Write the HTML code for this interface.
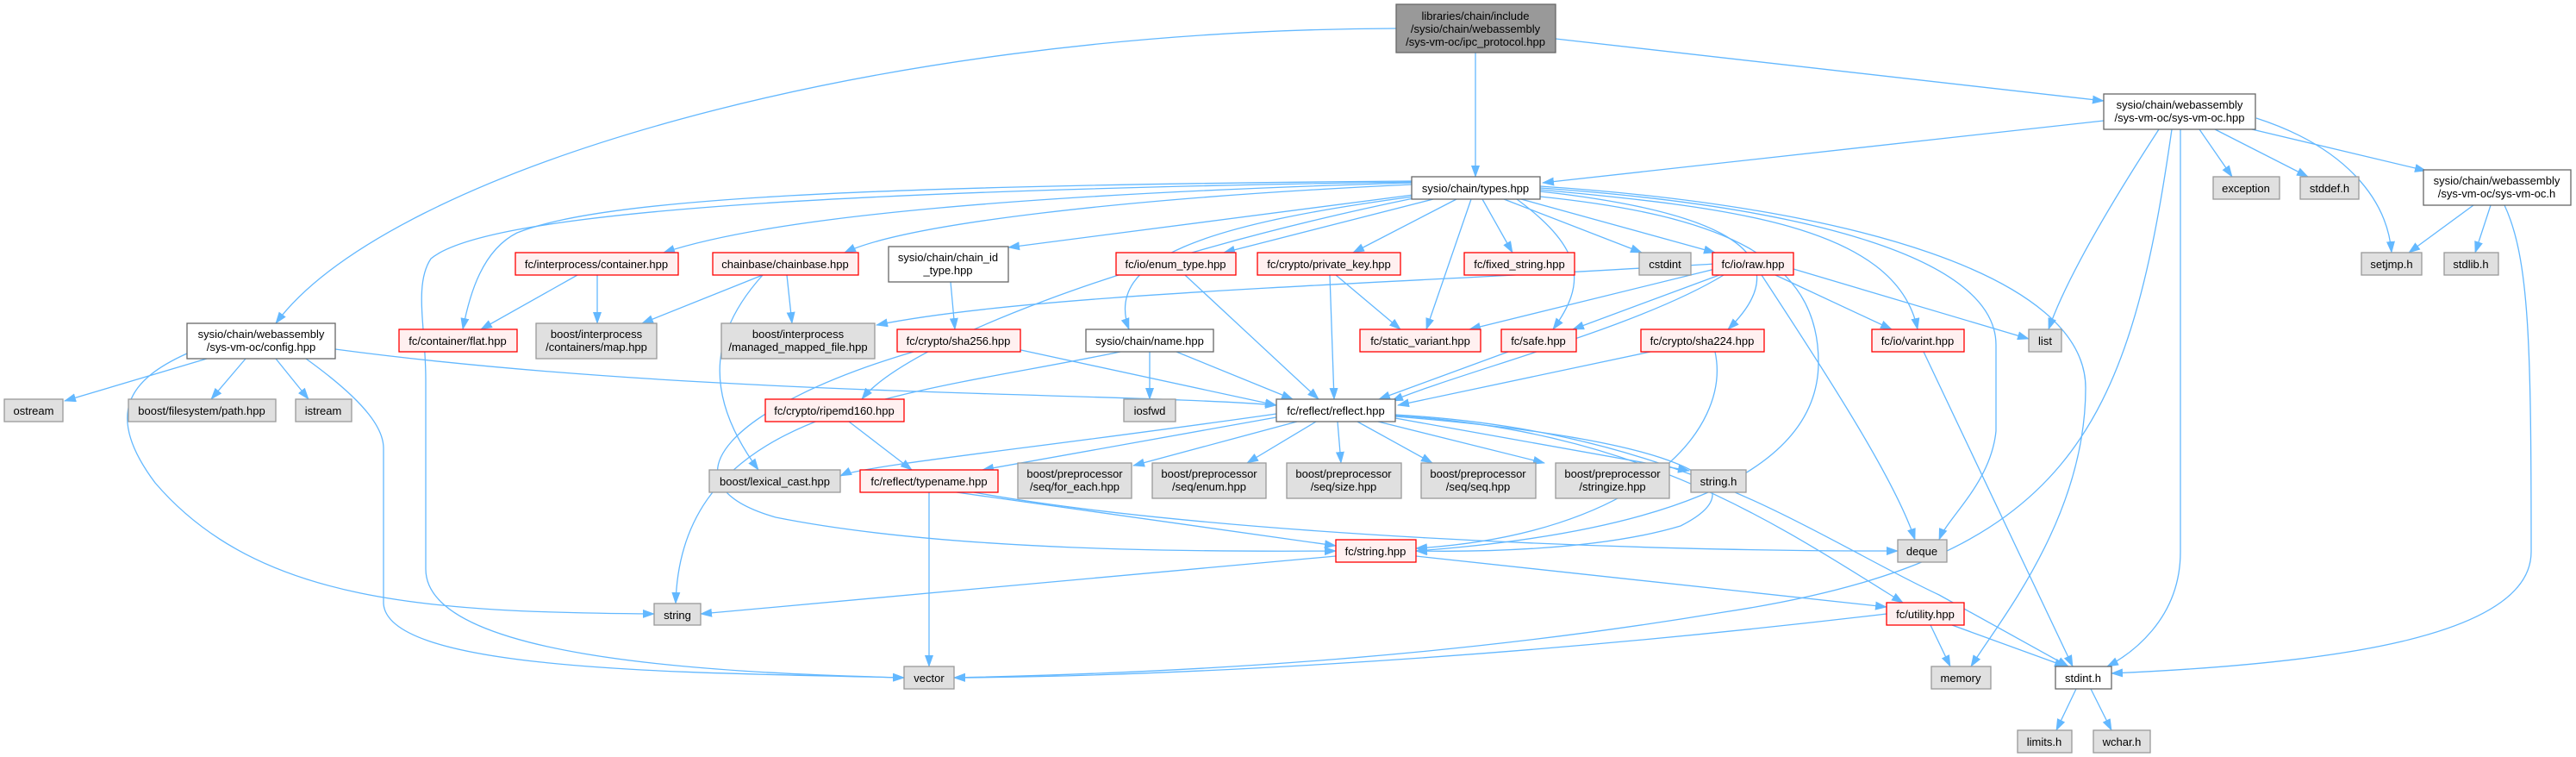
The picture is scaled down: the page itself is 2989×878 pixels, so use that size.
<!DOCTYPE html>
<html><head><meta charset="utf-8"><style>
html,body{margin:0;padding:0;background:#fff;}
svg{display:block;}
text{font-family:"Liberation Sans",Arial,sans-serif;font-size:13px;fill:#000;text-anchor:middle;}
.e{fill:none;stroke:#63b8ff;stroke-width:1.3;marker-end:url(#a);}
.r{fill:#fff0f0;stroke:#ff0000;stroke-width:1.3;}
.g{fill:#e0e0e0;stroke:#999;stroke-width:1.3;}
.w{fill:#fff;stroke:#666;stroke-width:1.3;}
.m{fill:#999;stroke:#666;stroke-width:1.3;}
</style></head><body>
<svg width="2989" height="878" viewBox="0 0 2989 878" xmlns="http://www.w3.org/2000/svg">
<defs><marker id="a" markerWidth="14" markerHeight="10" refX="13" refY="5" orient="auto" markerUnits="userSpaceOnUse"><path d="M0,0 L14,5 L0,10 Z" fill="#63b8ff"/></marker></defs>
<g>
<path class="e" d="M1620,33 C1000,35 450,200 320,375"/>
<path class="e" d="M1712,61 L1712,205"/>
<path class="e" d="M1805,45 L2441,117"/>
<path class="e" d="M2441,140 L1790,212"/>
<path class="e" d="M2552,150 L2590,205"/>
<path class="e" d="M2570,150 L2678,205"/>
<path class="e" d="M2613,150 L2815,198"/>
<path class="e" d="M2618,137 C2720,170 2770,230 2775,293"/>
<path class="e" d="M2505,150 C2440,250 2395,330 2377,382"/>
<path class="e" d="M2530,150 L2530,640 C2530,720 2470,760 2445,773"/>
<path class="e" d="M2520,150 C2470,500 2400,650 2000,710 C1700,760 1400,780 1107,786"/>
<path class="e" d="M2870,238 L2795,293"/>
<path class="e" d="M2890,238 L2872,293"/>
<path class="e" d="M2906,238 C2935,300 2937,400 2937,640 C2937,740 2700,770 2450,781"/>
<path class="e" d="M1640,226 C1450,250 1300,270 1170,287"/>
<path class="e" d="M1663,231 L1420,293"/>
<path class="e" d="M1690,231 L1570,293"/>
<path class="e" d="M1720,231 L1755,293"/>
<path class="e" d="M1745,231 L1905,293"/>
<path class="e" d="M1765,231 L1990,293"/>
<path class="e" d="M1707,231 L1655,382"/>
<path class="e" d="M1760,231 C1840,290 1840,330 1802,382"/>
<path class="e" d="M1787,222 C1950,240 2110,280 2005,382"/>
<path class="e" d="M1787,220 C2000,240 2200,260 2225,382"/>
<path class="e" d="M1787,218 C2100,240 2316,300 2316,400 L2316,500 C2310,560 2260,600 2250,626"/>
<path class="e" d="M1787,216 C2150,240 2420,320 2420,450 C2420,600 2320,720 2287,773"/>
<path class="e" d="M1787,228 C2000,250 2110,300 2110,420 C2110,560 1900,620 1643,639"/>
<path class="e" d="M1640,228 C1400,260 1280,300 1310,382"/>
<path class="e" d="M1638,212 C1200,225 900,250 770,293"/>
<path class="e" d="M1638,214 C1300,230 1050,260 980,293"/>
<path class="e" d="M1638,210 C1000,215 700,230 600,270 C560,290 545,340 537,382"/>
<path class="e" d="M1638,211 C900,222 560,250 500,300 C480,330 494,380 494,440 L494,660 C494,760 800,780 1049,786"/>
<path class="e" d="M1640,230 C1300,300 1050,400 1000,463"/>
<path class="e" d="M1990,306 C1600,330 1200,340 1017,377"/>
<path class="e" d="M1990,312 L1705,382"/>
<path class="e" d="M1995,319 L1825,382"/>
<path class="e" d="M2000,319 C1900,380 1700,430 1615,465"/>
<path class="e" d="M2060,319 L2195,382"/>
<path class="e" d="M2081,312 L2354,393"/>
<path class="e" d="M2044,319 C2130,450 2200,560 2222,626"/>
<path class="e" d="M1103,327 L1108,382"/>
<path class="e" d="M1375,319 L1530,463"/>
<path class="e" d="M1550,319 L1625,382"/>
<path class="e" d="M1543,319 L1548,463"/>
<path class="e" d="M670,319 L558,382"/>
<path class="e" d="M693,319 L693,375"/>
<path class="e" d="M885,319 L745,375"/>
<path class="e" d="M913,319 L919,375"/>
<path class="e" d="M885,319 C830,380 810,450 880,545"/>
<path class="e" d="M240,416 L75,465"/>
<path class="e" d="M285,416 L245,463"/>
<path class="e" d="M320,416 L358,463"/>
<path class="e" d="M217,410 C150,440 120,480 180,560 C300,700 500,710 759,712"/>
<path class="e" d="M355,416 C430,470 445,500 445,520 L445,700 C450,780 800,780 1049,786"/>
<path class="e" d="M389,405 C800,460 1300,455 1481,470"/>
<path class="e" d="M1334,408 L1334,463"/>
<path class="e" d="M1365,408 L1500,463"/>
<path class="e" d="M1300,408 C1050,460 790,470 784,700"/>
<path class="e" d="M1180,405 L1481,470"/>
<path class="e" d="M1060,408 C850,470 760,560 900,600 C1100,640 1400,640 1550,639"/>
<path class="e" d="M985,489 L1058,545"/>
<path class="e" d="M1750,408 L1600,463"/>
<path class="e" d="M1915,408 L1622,470"/>
<path class="e" d="M1990,408 C2010,500 1900,620 1643,636"/>
<path class="e" d="M2232,408 L2405,773"/>
<path class="e" d="M1481,484 L1140,545"/>
<path class="e" d="M1481,480 C1200,520 1000,540 975,552"/>
<path class="e" d="M1505,489 L1315,540"/>
<path class="e" d="M1527,489 L1447,537"/>
<path class="e" d="M1552,489 L1556,537"/>
<path class="e" d="M1575,489 L1662,537"/>
<path class="e" d="M1599,489 L1792,537"/>
<path class="e" d="M1619,485 L1960,546"/>
<path class="e" d="M1619,482 C1900,500 2050,600 2208,699"/>
<path class="e" d="M1619,481 C1950,500 2100,620 2250,690 L2400,773"/>
<path class="e" d="M1619,483 C1950,510 2050,560 1950,610 C1850,640 1700,640 1643,639"/>
<path class="e" d="M1130,571 C1400,620 1900,640 2202,639"/>
<path class="e" d="M1110,571 L1550,633"/>
<path class="e" d="M1078,571 L1078,773"/>
<path class="e" d="M1550,645 L813,712"/>
<path class="e" d="M1643,645 L2189,704"/>
<path class="e" d="M2240,725 L2263,773"/>
<path class="e" d="M2265,725 L2397,773"/>
<path class="e" d="M2189,712 C1700,770 1300,785 1107,786"/>
<path class="e" d="M2409,799 L2386,847"/>
<path class="e" d="M2426,799 L2450,847"/>
</g>
<g>
<rect class="m" x="1620" y="5" width="185" height="56"/><text x="1712" y="23">libraries/chain/include</text><text x="1712" y="38">/sysio/chain/webassembly</text><text x="1712" y="53">/sys-vm-oc/ipc_protocol.hpp</text>
<rect class="w" x="1638" y="205" width="149" height="26"/><text x="1712" y="223">sysio/chain/types.hpp</text>
<rect class="w" x="2441" y="109" width="176" height="41"/><text x="2529" y="126">sysio/chain/webassembly</text><text x="2529" y="141">/sys-vm-oc/sys-vm-oc.hpp</text>
<rect class="g" x="2568" y="205" width="77" height="26"/><text x="2606" y="223">exception</text>
<rect class="g" x="2669" y="205" width="68" height="26"/><text x="2703" y="223">stddef.h</text>
<rect class="w" x="2812" y="197" width="171" height="41"/><text x="2897" y="214">sysio/chain/webassembly</text><text x="2897" y="229">/sys-vm-oc/sys-vm-oc.h</text>
<rect class="g" x="2740" y="293" width="70" height="26"/><text x="2775" y="311">setjmp.h</text>
<rect class="g" x="2836" y="293" width="63" height="26"/><text x="2867" y="311">stdlib.h</text>
<rect class="w" x="217" y="375" width="172" height="41"/><text x="303" y="392">sysio/chain/webassembly</text><text x="303" y="407">/sys-vm-oc/config.hpp</text>
<rect class="r" x="598" y="293" width="189" height="26"/><text x="692" y="311">fc/interprocess/container.hpp</text>
<rect class="r" x="827" y="293" width="169" height="26"/><text x="911" y="311">chainbase/chainbase.hpp</text>
<rect class="r" x="463" y="382" width="137" height="26"/><text x="531" y="400">fc/container/flat.hpp</text>
<rect class="g" x="622" y="375" width="140" height="41"/><text x="692" y="392">boost/interprocess</text><text x="692" y="407">/containers/map.hpp</text>
<rect class="g" x="837" y="375" width="178" height="41"/><text x="926" y="392">boost/interprocess</text><text x="926" y="407">/managed_mapped_file.hpp</text>
<rect class="w" x="1031" y="286" width="139" height="41"/><text x="1100" y="303">sysio/chain/chain_id</text><text x="1100" y="318">_type.hpp</text>
<rect class="r" x="1295" y="293" width="139" height="26"/><text x="1364" y="311">fc/io/enum_type.hpp</text>
<rect class="r" x="1459" y="293" width="166" height="26"/><text x="1542" y="311">fc/crypto/private_key.hpp</text>
<rect class="r" x="1699" y="293" width="128" height="26"/><text x="1763" y="311">fc/fixed_string.hpp</text>
<rect class="g" x="1902" y="293" width="60" height="26"/><text x="1932" y="311">cstdint</text>
<rect class="r" x="1987" y="293" width="94" height="26"/><text x="2034" y="311">fc/io/raw.hpp</text>
<rect class="r" x="1041" y="382" width="143" height="26"/><text x="1112" y="400">fc/crypto/sha256.hpp</text>
<rect class="w" x="1260" y="382" width="148" height="26"/><text x="1334" y="400">sysio/chain/name.hpp</text>
<rect class="r" x="1578" y="382" width="140" height="26"/><text x="1648" y="400">fc/static_variant.hpp</text>
<rect class="r" x="1742" y="382" width="87" height="26"/><text x="1785" y="400">fc/safe.hpp</text>
<rect class="r" x="1904" y="382" width="143" height="26"/><text x="1975" y="400">fc/crypto/sha224.hpp</text>
<rect class="r" x="2172" y="382" width="107" height="26"/><text x="2225" y="400">fc/io/varint.hpp</text>
<rect class="g" x="2354" y="382" width="38" height="26"/><text x="2373" y="400">list</text>
<rect class="g" x="5" y="463" width="68" height="26"/><text x="39" y="481">ostream</text>
<rect class="g" x="149" y="463" width="171" height="26"/><text x="234" y="481">boost/filesystem/path.hpp</text>
<rect class="g" x="343" y="463" width="65" height="26"/><text x="375" y="481">istream</text>
<rect class="r" x="888" y="463" width="161" height="26"/><text x="968" y="481">fc/crypto/ripemd160.hpp</text>
<rect class="g" x="1304" y="463" width="60" height="26"/><text x="1334" y="481">iosfwd</text>
<rect class="w" x="1481" y="463" width="138" height="26"/><text x="1550" y="481">fc/reflect/reflect.hpp</text>
<rect class="g" x="823" y="545" width="152" height="26"/><text x="899" y="563">boost/lexical_cast.hpp</text>
<rect class="r" x="998" y="545" width="160" height="26"/><text x="1078" y="563">fc/reflect/typename.hpp</text>
<rect class="g" x="1181" y="537" width="132" height="41"/><text x="1247" y="554">boost/preprocessor</text><text x="1247" y="569">/seq/for_each.hpp</text>
<rect class="g" x="1337" y="537" width="132" height="41"/><text x="1403" y="554">boost/preprocessor</text><text x="1403" y="569">/seq/enum.hpp</text>
<rect class="g" x="1493" y="537" width="133" height="41"/><text x="1559" y="554">boost/preprocessor</text><text x="1559" y="569">/seq/size.hpp</text>
<rect class="g" x="1649" y="537" width="133" height="41"/><text x="1715" y="554">boost/preprocessor</text><text x="1715" y="569">/seq/seq.hpp</text>
<rect class="g" x="1805" y="537" width="132" height="41"/><text x="1871" y="554">boost/preprocessor</text><text x="1871" y="569">/stringize.hpp</text>
<rect class="g" x="1962" y="545" width="64" height="26"/><text x="1994" y="563">string.h</text>
<rect class="r" x="1550" y="626" width="93" height="26"/><text x="1596" y="644">fc/string.hpp</text>
<rect class="g" x="2202" y="626" width="57" height="26"/><text x="2230" y="644">deque</text>
<rect class="g" x="759" y="700" width="54" height="25"/><text x="786" y="718">string</text>
<rect class="r" x="2189" y="699" width="90" height="26"/><text x="2234" y="717">fc/utility.hpp</text>
<rect class="g" x="1049" y="773" width="58" height="26"/><text x="1078" y="791">vector</text>
<rect class="g" x="2241" y="773" width="69" height="26"/><text x="2275" y="791">memory</text>
<rect class="w" x="2385" y="773" width="65" height="26"/><text x="2417" y="791">stdint.h</text>
<rect class="g" x="2341" y="847" width="63" height="26"/><text x="2372" y="865">limits.h</text>
<rect class="g" x="2429" y="847" width="66" height="26"/><text x="2462" y="865">wchar.h</text>
</g>
</svg>
</body></html>
